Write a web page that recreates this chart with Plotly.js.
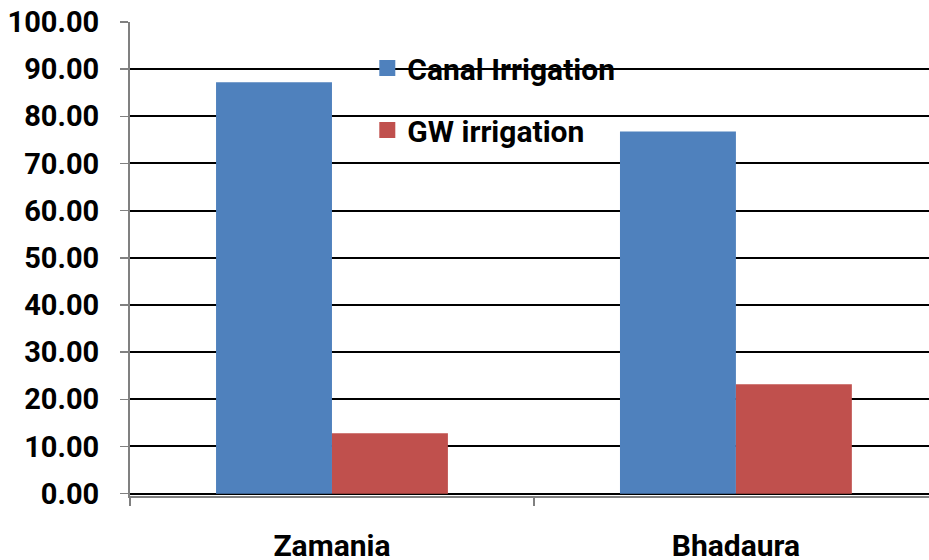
<!DOCTYPE html>
<html><head><meta charset="utf-8">
<script src="https://cdn.plot.ly/plotly-3.0.1.min.js"></script>
<style>html,body{margin:0;padding:0;background:#fff}#chart{width:929px;height:560px}</style>
</head><body><div id="chart"></div>
<script>
const categories = ["Zamania", "Bhadaura"];
const canalIrrigation = [87.2, 76.8];
const gwIrrigation = [12.8, 23.2];
const seriesNames = ["Canal Irrigation", "GW irrigation"];
const seriesColors = ["#4F81BD", "#C0504D"];
const yTickVals = [0,10,20,30,40,50,60,70,80,90,100];
const yTickText = ["0.00","10.00","20.00","30.00","40.00","50.00","60.00","70.00","80.00","90.00","100.00"];

const FONT = 'Roboto, "Liberation Sans", sans-serif';

const traces = [
  {type:'bar', x:categories, y:canalIrrigation, name:seriesNames[0], marker:{color:seriesColors[0]}, showlegend:false},
  {type:'bar', x:categories, y:gwIrrigation, name:seriesNames[1], marker:{color:seriesColors[1]}, showlegend:false},
  {type:'scatter', mode:'markers', x:[null], y:[null], name:seriesNames[0], legendgroup:'a', marker:{symbol:'square', size:17, color:seriesColors[0]}},
  {type:'scatter', mode:'markers', x:[null], y:[null], name:seriesNames[1], legendgroup:'b', marker:{symbol:'square', size:17, color:seriesColors[1]}}
];

const layout = {
  width:929, height:560,
  margin:{l:130, r:0, t:22, b:64},
  paper_bgcolor:'#fff', plot_bgcolor:'#fff',
  font:{family:FONT, size:29, color:'#000', weight:'bold'},
  barmode:'group', bargap:0.426, bargroupgap:0,
  showlegend:true,
  legend:{x:0.297, y:0.958, xanchor:'left', yanchor:'top', bgcolor:'rgba(0,0,0,0)', traceorder:'grouped', tracegroupgap:20, itemwidth:30,
          font:{family:FONT, size:30, color:'#000', weight:'bold'}},
  xaxis:{type:'category', range:[-0.5, 1.478], tickson:'boundaries', ticks:'outside', ticklen:8, tickwidth:1.5, tickcolor:'#808080',
         showline:true, linecolor:'#808080', linewidth:2, showgrid:false, zeroline:false, ticklabelstandoff:22,
         tickfont:{family:FONT, size:30, color:'#000', weight:'bold'}},
  yaxis:{range:[-0.5, 100], tickvals:yTickVals, ticktext:yTickText,
         ticks:'outside', ticklen:8, tickwidth:1.5, tickcolor:'#808080', showline:true, linecolor:'#808080', linewidth:2,
         showgrid:true, gridcolor:'#000', gridwidth:2, zeroline:true, zerolinecolor:'#000', zerolinewidth:2, ticklabelstandoff:15,
         tickfont:{family:FONT, size:29, color:'#000', weight:'bold'}}
};
Plotly.newPlot('chart', traces, layout, {displayModeBar:false, staticPlot:true});
</script></body></html>
